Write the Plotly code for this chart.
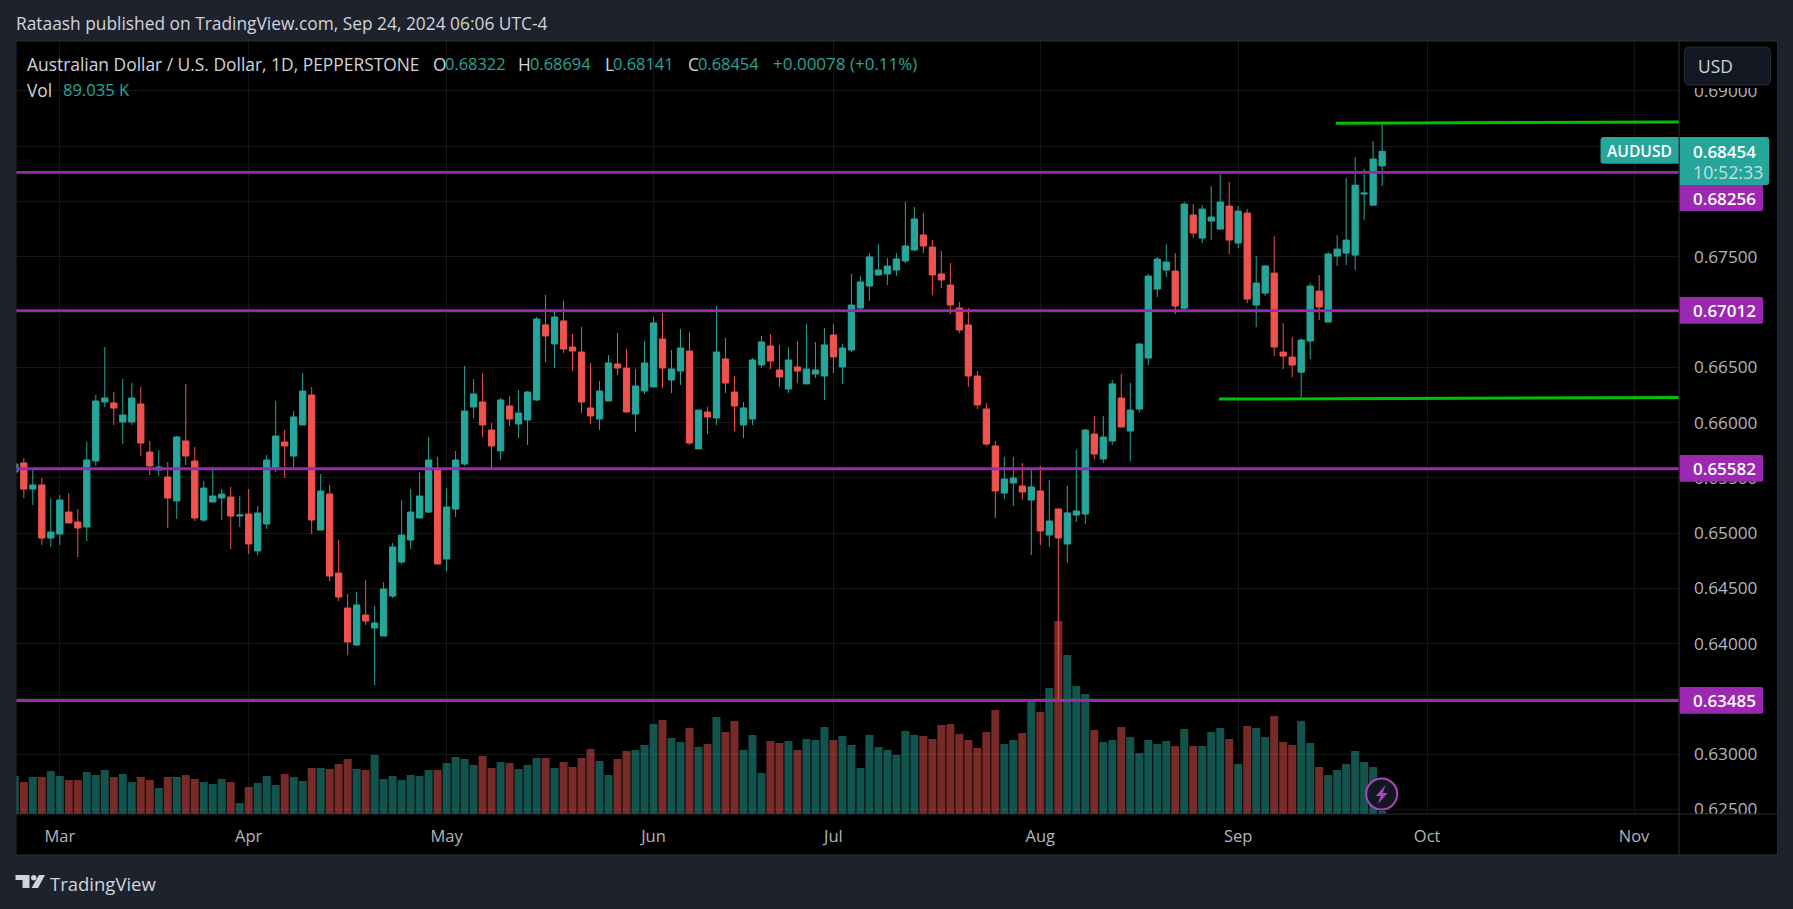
#!/usr/bin/python3
import plotly.graph_objects as go

# price data, one entry per daily bar
bar_index = list(range(-1, 152))

opens = [
    .65552, .65634, .65398, .65435, .64955, .64991, .65190, .65100, .65055, .65652,
    .66186, .66177, .66005, .66005, .66168, .65733, .65570, .65507, .65290, .65833,
    .65652, .65118, .65281, .65317, .65326, .65154, .65172, .64838, .65082, .65588,
    .65824, .65697, .65978, .66249, .65027, .65353, .64638, .64322, .63987, .64258,
    .64141, .64068, .64430, .64738, .64937, .65136, .65190, .65579, .64765, .65217,
    .65625, .66141, .66186, .65932, .65743, .66150, .65987, .66023, .66204, .66883,
    .66711, .66919, .66683, .66638, .66132, .66032, .66195, .66530, .66493, .66077,
    .66285, .66322, .66756, .66385, .66466, .66647, .65761, .66095, .66041, .66575,
    .66276, .65978, .66032, .66521, .66693, .66475, .66303, .66503, .66349, .66439,
    .66421, .66792, .66503, .66656, .67036, .67235, .67335, .67344, .67380, .67462,
    .67561, .67697, .67588, .67344, .67244, .67036, .66883, .66421, .66122, .65788,
    .65362, .65453, .65426, .65299, .65381, .64982, .65218, .64901, .65163, .65172,
    .65896, .65670, .65833, .66221, .65923, .66122, .66583, .67207, .67379, .67370,
    .67035, .67877, .67669, .67823, .67750, .67958, .67624, .67895, .67063, .67171,
    .67352, .66637, .66592, .66456, .66737, .67189, .66909, .67506, .67533, .67515,
    .68067, .67967, .68322]
highs = [
    .65625, .65679, .65588, .65498, .65317, .65344, .65362, .65217, .65824, .66249,
    .66683, .66276, .66394, .66358, .66321, .65833, .65751, .65643, .65878, .66348,
    .65778, .65471, .65598, .65398, .65417, .65335, .65398, .65245, .65706, .66195,
    .65932, .66104, .66448, .66321, .65534, .65435, .64937, .64448, .64467, .64575,
    .64340, .64557, .64910, .65299, .65398, .65552, .65869, .65688, .65407, .65742,
    .66512, .66394, .66448, .65996, .66222, .66240, .66294, .66285, .66955, .67154,
    .67018, .67100, .66801, .66864, .66539, .66376, .66611, .66810, .66665, .66484,
    .66738, .66955, .66991, .66656, .66846, .66819, .66113, .66141, .67054, .66765,
    .66421, .66186, .66584, .66783, .66801, .66702, .66683, .66738, .66892, .66729,
    .66855, .66892, .66711, .67344, .67326, .67534, .67615, .67489, .67534, .67995,
    .67950, .67896, .67652, .67552, .67443, .67091, .67036, .66466, .66177, .65833,
    .65688, .65688, .65634, .65571, .65607, .65480, .65218, .65426, .65752, .65942,
    .66059, .66059, .66385, .66439, .66358, .66719, .67343, .67497, .67615, .67533,
    .67995, .67976, .67967, .68139, .68248, .68176, .67958, .67931, .67506, .67425,
    .67687, .66900, .66773, .66764, .67262, .67334, .67542, .67696, .68212, .68402,
    .68293, .68547, .68694]
lows = [
    .65552, .65317, .65254, .64892, .64874, .64892, .65091, .64783, .64928, .65607,
    .66140, .65978, .65806, .65978, .65697, .65525, .65516, .65046, .65127, .65616,
    .65109, .65100, .65281, .65118, .64856, .65055, .64810, .64801, .65037, .65552,
    .65498, .65598, .65978, .64991, .65027, .64566, .64385, .63896, .63978, .64168,
    .63625, .64068, .64412, .64720, .64856, .65136, .65181, .64720, .64657, .65145,
    .65607, .66041, .65869, .65589, .65661, .65969, .65860, .65797, .66195, .66548,
    .66493, .66629, .66466, .66086, .65987, .65932, .66195, .66430, .66095, .65914,
    .66258, .66322, .66312, .66267, .66340, .65797, .65761, .65896, .65978, .66267,
    .65923, .65860, .65978, .66493, .66484, .66322, .66267, .66358, .66349, .66403,
    .66204, .66448, .66349, .66638, .67018, .67100, .67326, .67244, .67326, .67443,
    .67552, .67534, .67154, .67217, .66982, .66810, .66322, .66122, .65788, .65136,
    .65308, .65245, .65299, .64801, .64892, .64874, .63480, .64729, .65100, .65082,
    .65670, .65634, .65797, .65959, .65650, .66089, .66520, .67135, .67316, .66981,
    .66999, .67669, .67624, .67651, .67750, .67524, .67578, .67081, .66864, .67144,
    .66601, .66484, .66411, .66230, .66574, .66927, .66909, .67416, .67425, .67379,
    .67832, .67967, .68141]
closes = [
    .65625, .65398, .65435, .64955, .65009, .65299, .65091, .65046, .65661, .66195,
    .66222, .66131, .66068, .66222, .65815, .65607, .65598, .65317, .65869, .65697,
    .65136, .65407, .65335, .65353, .65154, .65163, .64901, .65181, .65661, .65878,
    .65788, .66050, .66285, .65118, .65380, .64611, .64421, .64014, .64349, .64204,
    .64186, .64494, .64874, .64982, .65190, .65335, .65661, .64720, .65236, .65661,
    .66104, .66258, .65978, .65788, .66204, .66032, .66086, .66276, .66937, .66783,
    .66955, .66665, .66647, .66186, .66059, .66285, .66539, .66493, .66095, .66331,
    .66539, .66901, .66493, .66484, .66674, .65815, .66113, .66050, .66638, .66358,
    .66150, .66132, .66566, .66729, .66557, .66412, .66566, .66466, .66484, .66475,
    .66702, .66593, .66674, .67063, .67272, .67498, .67380, .67416, .67480, .67597,
    .67842, .67597, .67335, .67290, .67063, .66837, .66421, .66159, .65806, .65381,
    .65489, .65498, .65372, .65417, .65019, .65109, .64955, .65182, .65200, .65932,
    .65715, .65869, .66349, .65959, .66113, .66710, .67325, .67479, .67452, .67054,
    .67976, .67714, .67931, .67859, .67995, .67651, .67913, .67117, .67262, .67416,
    .66683, .66601, .66520, .66746, .67235, .67045, .67524, .67569, .67651, .68148,
    .68076, .68384, .68454]

# volume in thousands
volumes = [
    124, 118, 123, 123, 129, 124, 120, 120, 128, 125,
    130, 123, 126, 118, 123, 120, 112, 123, 123, 125,
    121, 118, 116, 121, 118, 97, 113, 117, 124, 115,
    126, 123, 119, 132, 132, 131, 136, 141, 131, 130,
    145, 121, 124, 120, 125, 124, 130, 130, 137, 143,
    141, 135, 144, 132, 138, 137, 131, 135, 142, 142,
    132, 138, 133, 142, 151, 139, 125, 141, 149, 150,
    155, 176, 180, 162, 158, 172, 153, 156, 183, 168,
    179, 150, 165, 127, 159, 157, 159, 150, 161, 160,
    173, 160, 164, 155, 132, 165, 153, 150, 145, 169,
    165, 164, 161, 175, 176, 166, 160, 152, 168, 190,
    156, 160, 167, 198, 188, 212, 279, 245, 214, 206,
    170, 158, 160, 173, 163, 147, 160, 156, 159, 154,
    171, 154, 154, 168, 172, 161, 136, 174, 172, 163,
    184, 158, 155, 179, 157, 133, 125, 130, 136, 149,
    138, 133, 89]

month_bars = [4, 25, 47, 70, 90, 113, 135, 156, 179]
month_labels = ['Mar', 'Apr', 'May', 'Jun', 'Jul', 'Aug', 'Sep', 'Oct', 'Nov']
price_ticks = [.625, .63, .635, .64, .645, .65, .655, .66, .665, .67,
               .675, .68, .685, .69]
# the blank ones sit fully behind the price boxes
price_tick_labels = ['0.62500', '0.63000', '', '0.64000', '0.64500', '0.65000', '0.65500',
                     '0.66000', '0.66500', '', '0.67500', '', '', '0.69000']

level_prices = [.68264, .67012, .65582, .63485]
level_labels = ['0.68256', '0.67012', '0.65582', '0.63485']

# hand drawn green rays
upper_ray_x = [145.85, 184]
upper_ray_y = [.68707, .68719]
lower_ray_x = [132.85, 184]
lower_ray_y = [.66212, .66226]

UP = '#26a69a'
DOWN = '#ef5350'
PURPLE = '#9c27b0'
GREEN = '#04c004'
PAGE = '#1e222d'
BORDER = '#2a2e39'
TEXT = '#d1d4dc'
FONT = 'Open Sans'

# plot area in page pixels
PLOT_L, PLOT_R, PLOT_T, PLOT_B = 15.5, 1679.5, 41, 814
W, H = 1793, 909


def px(x):
    return (x - PLOT_L) / (PLOT_R - PLOT_L)


def py(y):
    return (PLOT_B - y) / (PLOT_B - PLOT_T)


def rect(x0, y0, x1, y1, fill, layer='above'):
    return dict(type='rect', xref='paper', yref='paper', x0=px(x0), x1=px(x1),
                y0=py(y0), y1=py(y1), fillcolor=fill, line_width=0, layer=layer)


def rbox(x0, y0, x1, y1, fill, tl=0, tr=0, br=0, bl=0, line=None):
    # box with rounded corners, given in page pixels
    p = lambda x, y: '%.6f,%.6f' % (px(x), py(y))
    d = 'M' + p(x0 + tl, y0) + ' L' + p(x1 - tr, y0)
    d += ' Q' + p(x1, y0) + ' ' + p(x1, y0 + tr)
    d += ' L' + p(x1, y1 - br) + ' Q' + p(x1, y1) + ' ' + p(x1 - br, y1)
    d += ' L' + p(x0 + bl, y1) + ' Q' + p(x0, y1) + ' ' + p(x0, y1 - bl)
    d += ' L' + p(x0, y0 + tl) + ' Q' + p(x0, y0) + ' ' + p(x0 + tl, y0) + ' Z'
    return dict(type='path', xref='paper', yref='paper', path=d, fillcolor=fill,
                line=dict(color=line or fill, width=1 if line else 0), layer='above')


def poly(points, fill):
    d = 'M' + ' L'.join('%.6f,%.6f' % (px(x), py(y)) for x, y in points) + ' Z'
    return dict(type='path', xref='paper', yref='paper', path=d, fillcolor=fill,
                line_width=0, layer='above')


def hline(x0, x1, y):
    return dict(type='line', xref='paper', yref='paper', x0=px(x0), x1=px(x1),
                y0=py(y), y1=py(y), line=dict(color=BORDER, width=1), layer='above')


def vline(x, y0, y1):
    return dict(type='line', xref='paper', yref='paper', x0=px(x), x1=px(x),
                y0=py(y0), y1=py(y1), line=dict(color=BORDER, width=1), layer='above')


def label(x, y, text, color=TEXT, size=17.35, anchor='left', weight=None):
    return dict(xref='paper', yref='paper', x=px(x), y=py(y), text=text, showarrow=False,
                xanchor=anchor, yanchor='middle', align='left',
                borderpad=0, borderwidth=0,
                font=dict(family=FONT, size=size, color=color, weight=weight))


vol_colors = ['rgba(38,166,154,0.5)' if c >= o else 'rgba(239,83,80,0.5)'
              for o, c in zip(opens, closes)]

fig = go.Figure()

fig.add_trace(go.Bar(x=bar_index, y=volumes, marker=dict(color=vol_colors, line_width=0),
                     width=0.89, yaxis='y', showlegend=False))

fig.add_trace(go.Candlestick(
    x=bar_index, open=opens, high=highs, low=lows, close=closes, yaxis='y2',
    whiskerwidth=0, showlegend=False,
    increasing=dict(line=dict(color=UP, width=1), fillcolor=UP),
    decreasing=dict(line=dict(color=DOWN, width=1), fillcolor=DOWN)))

for level in level_prices:
    fig.add_trace(go.Scatter(x=[-1, 184], y=[level, level], yaxis='y2', mode='lines',
                             line=dict(color=PURPLE, width=2.8), showlegend=False))

fig.add_trace(go.Scatter(x=upper_ray_x, y=upper_ray_y, yaxis='y2', mode='lines',
                         line=dict(color=GREEN, width=3), showlegend=False))
fig.add_trace(go.Scatter(x=lower_ray_x, y=lower_ray_y, yaxis='y2', mode='lines',
                         line=dict(color=GREEN, width=3), showlegend=False))

shapes = [
    # black chart panel, under everything
    rect(15, 41, 1778, 855, '#000000', layer='below'),
    # things that cut off price labels
    rect(1680, 41.5, 1778, 88, '#000000'),
    rect(1680, 814, 1778, 855, '#000000'),
    rbox(1685, 47, 1771, 85, '#131722', 5, 5, 5, 5, line=BORDER),
    # last price labels
    rbox(1601, 137, 1679.5, 163.7, UP, tl=3, bl=3),
    rbox(1680, 137, 1769.7, 185, UP, tr=3, br=3),
    rbox(1680, 185, 1763.7, 211, PURPLE, br=2),
    rbox(1680, 297, 1763.7, 323.7, PURPLE, tr=2, br=2),
    rbox(1680, 455, 1763.7, 481.7, PURPLE, tr=2, br=2),
    rbox(1680, 687, 1763.7, 713.7, PURPLE, tr=2, br=2),
    # frame
    hline(15, 1778, 41),
    hline(15, 1778, 814),
    hline(15, 1778, 855),
    vline(15.5, 41, 855),
    vline(1679.5, 41, 855),
    vline(1778, 41, 855),
    # bolt button
    dict(type='circle', xref='paper', yref='paper', x0=px(1366.5), x1=px(1397.5),
         y0=py(778.5), y1=py(809.5), fillcolor='#131722',
         line=dict(color='#ab47bc', width=2), layer='above'),
    poly([(1386, 785), (1376, 796), (1381, 796), (1378, 804), (1388, 793), (1383, 793)], '#ab47bc'),
    # TradingView logo
    poly([(15, 875), (29, 875), (29, 888), (22, 888), (22, 880), (15, 880)], TEXT),
    dict(type='circle', xref='paper', yref='paper', x0=px(30.5), x1=px(36),
         y0=py(875), y1=py(880.5), fillcolor=TEXT, line_width=0, layer='above'),
    poly([(38.5, 875), (44.5, 875), (37.5, 888), (31, 888)], TEXT),
]

annotations = [
    label(15, 23, 'Rataash published on TradingView.com, Sep 24, 2024 06:06 UTC-4'),
    label(27, 64, 'Australian Dollar / U.S. Dollar, 1D, PEPPERSTONE', size=17.4),
    label(433, 64, 'O'), label(445, 64, '0.68322', UP, 16.4),
    label(518, 64, 'H'), label(530, 64, '0.68694', UP, 16.4),
    label(605, 64, 'L'), label(613, 64, '0.68141', UP, 16.4),
    label(688, 64, 'C'), label(698, 64, '0.68454', UP, 16.4),
    label(773, 64, '+0.00078 (+0.11%)', UP, 17),
    label(27, 90, 'Vol'), label(63, 90, '89.035 K', UP, 16.6),
    label(1699, 66, 'USD'),
    label(1640, 151, 'AUDUSD', '#ffffff', 15.6, anchor='center', weight=600),
    label(1725, 151, '0.68454', '#ffffff', 17, anchor='center', weight=600),
    label(1729, 172, '10:52:33', 'rgba(255,255,255,0.7)', 17.8, anchor='center'),
    label(1725, 198, level_labels[0], '#ffffff', 17, anchor='center', weight=600),
    label(1725, 310.5, level_labels[1], '#ffffff', 17, anchor='center', weight=600),
    label(1725, 468.5, level_labels[2], '#ffffff', 17, anchor='center', weight=600),
    label(1725, 700.5, level_labels[3], '#ffffff', 17, anchor='center', weight=600),
    label(50, 883.5, 'TradingView', TEXT, 18.5),
]

grid = '#161616'
fig.update_layout(
    width=W, height=H, autosize=False,
    paper_bgcolor=PAGE, plot_bgcolor='#000000',
    margin=dict(l=PLOT_L, r=W - PLOT_R, t=PLOT_T, b=H - PLOT_B, pad=0, autoexpand=False),
    showlegend=False, hovermode=False,
    boxgap=0.3, boxgroupgap=0,
    shapes=shapes, annotations=annotations,
    xaxis=dict(range=[-0.87, 184], tickmode='array', tickvals=month_bars, ticktext=month_labels,
               showgrid=True, gridcolor=grid, gridwidth=1, zeroline=False, showline=False,
               ticks='outside', ticklen=7.5, tickcolor='rgba(0,0,0,0)',
               tickfont=dict(family=FONT, size=16.5, color='#b2b5be'),
               rangeslider=dict(visible=False), automargin=False),
    yaxis=dict(range=[86, 859], visible=False, showgrid=False, zeroline=False, fixedrange=True),
    yaxis2=dict(range=[.62458, .69452], overlaying='y', side='right', anchor='x',
                tickmode='array', tickvals=price_ticks, ticktext=price_tick_labels,
                showgrid=True, gridcolor=grid, gridwidth=1, zeroline=False, showline=False,
                ticks='outside', ticklen=10.5, tickcolor='rgba(0,0,0,0)',
                tickfont=dict(family=FONT, size=17.2, color='#b2b5be'), automargin=False),
)

fig.write_html("out.html", config=dict(displayModeBar=False),
               post_script="document.body.style.margin='0';document.body.style.overflow='hidden';")
